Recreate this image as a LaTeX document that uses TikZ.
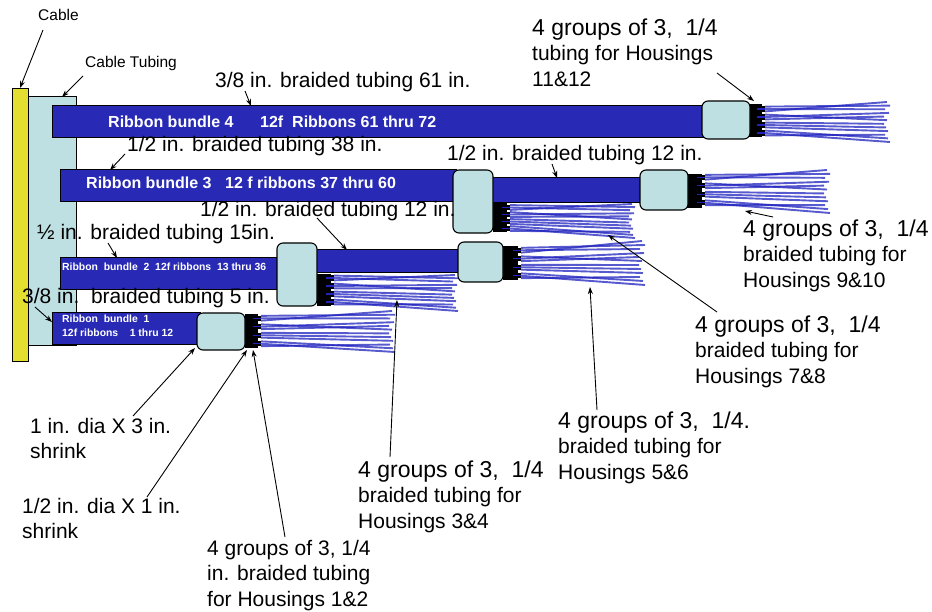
\documentclass[tikz,border=0pt]{standalone}
\usepackage{fontspec}
\setmainfont{Liberation Sans}
\usetikzlibrary{arrows.meta}

\definecolor{ribbon}{RGB}{40,42,182}
\definecolor{shrinkfill}{RGB}{190,224,226}
\definecolor{cableyellow}{RGB}{228,222,48}
\definecolor{fiberblue}{RGB}{32,34,190}

\newcommand{\lblsize}{\fontsize{21}{25.5}\selectfont}
\newcommand{\lblbig}{\fontsize{23}{25.5}\selectfont}
\newcommand{\lblsmall}{\fontsize{15.5}{18}\selectfont}
\newcommand{\tagbig}{\bfseries\fontsize{16}{18}\selectfont}
\newcommand{\tagsmall}{\bfseries\fontsize{10.4}{14}\selectfont}

% fan of 4 groups x 3 fibres leaving a connector
% #1 start x, #2/#3 start y range, #4 end x, #5/#6 end y range
\newcommand{\fiberfan}[6]{%
  \foreach \g in {0,...,3}{%
    \pgfmathsetmacro{\ya}{#2+(#3-#2)*(\g+0.5)/4}%
    \foreach \k in {0,1,2}{%
      \pgfmathsetmacro{\yc}{\ya+(\k-1)*2.4}%
      \pgfmathsetmacro{\yb}{#5+(#6-#5)*(3*\g+mod(\k+1+\g,3))/11}%
      \pgfmathsetmacro{\xb}{#4-mod(3*\g+5*\k,7)*1.0}%
      \draw[fiber] (#1+3,\yc) -- (\xb,\yb);
    }%
    \fill[black] (#1-1,\ya-2.6) rectangle (#1+3,\ya+2.6);
    \draw[stub] (#1-5,\ya) -- (#1+3,\ya);
  }%
}

\begin{document}
\begin{tikzpicture}[x=1pt,y=-1pt,
  bar/.style={draw=black, line width=1pt, fill=ribbon},
  sleeve/.style={draw=black, line width=1.1pt, fill=shrinkfill, rounded corners=6pt},
  plug/.style={fill=black},
  fiber/.style={draw=fiberblue, line width=1.9pt, opacity=0.75},
  stub/.style={draw=fiberblue, line width=1.3pt},
  lead/.style={draw=black, line width=0.9pt, -{Stealth[length=7pt,width=5pt]}},
  note/.style={inner sep=0pt, align=left, font=\lblsize},
  tag/.style={inner sep=0pt, text=white, anchor=base west},
]
\useasboundingbox[fill=white] (0,0) rectangle (932,612);

% cable and its outer tubing
\draw[fill=cableyellow, line width=1pt] (12,89) rectangle (28,362);
\draw[fill=shrinkfill, line width=1pt] (28,97) rectangle (76,346);

% ribbon bundles (braided tubing)
\draw[bar] (52,106) rectangle (705,138);
\draw[bar] (60,170) rectangle (456,202);
\draw[bar] (490,178) rectangle (642,203);
\draw[bar] (60,258) rectangle (280,290);
\draw[bar] (315,250) rectangle (460,273);
\draw[bar] (52,313) rectangle (200,345);

% connectors
\fill[plug] (748,104) rectangle (762,137);
\fill[plug] (687,174) rectangle (702,208);
\fill[plug] (493,203) rectangle (507,232);
\fill[plug] (503,246) rectangle (518,280);
\fill[plug] (317,274) rectangle (331,306);
\fill[plug] (245,314) rectangle (258,348);

% shrink sleeves
\draw[sleeve] (702,101) rectangle (750,139);
\draw[sleeve] (453,170) rectangle (493,233);
\draw[sleeve] (640,170) rectangle (688,210);
\draw[sleeve] (277,243) rectangle (317,306);
\draw[sleeve] (458,242) rectangle (503,282);
\draw[sleeve] (197,313) rectangle (245,350);

% fibre fans
\fiberfan{762}{105}{137}{890}{102}{142}
\fiberfan{702}{173}{207}{830}{170}{213}
\fiberfan{507}{204}{232}{635}{204}{238}
\fiberfan{518}{246}{280}{645}{241}{285}
\fiberfan{331}{274}{306}{458}{275}{311}
\fiberfan{258}{314}{348}{395}{311}{352}

% texts inside the bundles
\node[tag, font=\tagbig] (t4a) at (108,128) {Ribbon bundle 4};
\node[tag, font=\tagbig] (t4b) at (260,128) {12f\ \ Ribbons 61 thru 72};
\node[tag, font=\tagbig] (t3a) at (86,189) {Ribbon bundle 3};
\node[tag, font=\tagbig] (t3b) at (225,189) {12 f ribbons 37 thru 60};
\node[tag, font=\tagsmall] (t2) at (62,271) {Ribbon\ \ bundle\ \ 2\ \ 12f ribbons\ \ 13 thru 36};
\node[tag, font=\tagsmall] (t1a) at (62,323) {Ribbon\ \ bundle\ \ 1};
\node[tag, font=\tagsmall] (t1b) at (62,337) {12f ribbons\ \ \ \ 1 thru 12};

% labels
\node[note, font=\lblsmall, anchor=base west] (lblCable) at (38,21) {Cable};
\node[note, font=\lblsmall, anchor=base west] (lblTubing) at (85,68) {Cable Tubing};
\node[note, anchor=base west] (lbl61) at (215,88) {3/8 in. braided tubing 61 in.};
\node[note, anchor=base west] (lbl38) at (127,152) {1/2 in. braided tubing 38 in.};
\node[note, anchor=base west] (lbl12a) at (447,161) {1/2 in. braided tubing 12 in.};
\node[note, anchor=base west] (lbl12b) at (200,217) {1/2 in. braided tubing 12 in.};
\node[note, anchor=base west] (lbl15) at (37,240) {½ in. braided tubing 15in.};
\node[note, anchor=base west] (lbl5) at (22,304) {3/8 in.\ \ braided tubing 5 in.};

\node[note, anchor=north west] (lblH1112) at (532,18.4)
  {{\lblbig 4 groups of 3,\ \ 1/4}\\tubing for Housings\\11\&12};
\node[note, anchor=north west] (lblH910) at (743,219.4)
  {{\lblbig 4 groups of 3,\ \ 1/4}\\braided tubing for\\Housings 9\&10};
\node[note, anchor=north west] (lblH78) at (695,315.4)
  {{\lblbig 4 groups of 3,\ \ 1/4}\\braided tubing for\\Housings 7\&8};
\node[note, anchor=north west] (lblH56) at (558,411.4)
  {{\lblbig 4 groups of 3,\ \ 1/4.}\\braided tubing for\\Housings 5\&6};
\node[note, anchor=north west] (lblH34) at (358,460.4)
  {{\lblbig 4 groups of 3,\ \ 1/4}\\braided tubing for\\Housings 3\&4};
\node[note, anchor=north west] (lblH12) at (207,539.8)
  {4 groups of 3, 1/4\\in. braided tubing\\for Housings 1\&2};
\node[note, anchor=north west] (lblDia1) at (30,417.8) {1 in. dia X 3 in.\\shrink};
\node[note, anchor=north west] (lblDia2) at (22,497.8) {1/2 in. dia X 1 in.\\shrink};

% leader ends
\coordinate (aCable) at (43,30);       \coordinate (pCable) at (20,88);
\coordinate (aTubing) at (83,76);      \coordinate (pTubing) at (62,97);
\coordinate (a61) at (245,91);         \coordinate (p61) at (251,106);
\coordinate (a38) at (125,154);        \coordinate (p38) at (110,170);
\coordinate (a12a) at (552,164);       \coordinate (p12a) at (557,178);
\coordinate (a12b) at (317,218);       \coordinate (p12b) at (347,250);
\coordinate (a15) at (108,243);        \coordinate (p15) at (117,258);
\coordinate (a5) at (35,307);          \coordinate (p5) at (52,322);
\coordinate (aDia1) at (133,416);      \coordinate (pDia1) at (195,348);
\coordinate (aDia2) at (147,497);      \coordinate (pDia2) at (247,350);
\coordinate (aH12) at (285,537);       \coordinate (pH12) at (253,350);
\coordinate (aH34) at (390,457);       \coordinate (pH34) at (397,300);
\coordinate (aH56) at (597,410);       \coordinate (pH56) at (590,287);
\coordinate (aH78) at (717,312);       \coordinate (pH78) at (608,235);
\coordinate (aH910) at (773,217);      \coordinate (pH910) at (745,211);
\coordinate (aH1112) at (717,73);      \coordinate (pH1112) at (754,101);

\foreach \n in {Cable,Tubing,61,38,12a,12b,15,5,Dia1,Dia2,H12,H34,H56,H78,H910,H1112}
  \draw[lead] (a\n) -- (p\n);
\end{tikzpicture}
\end{document}
